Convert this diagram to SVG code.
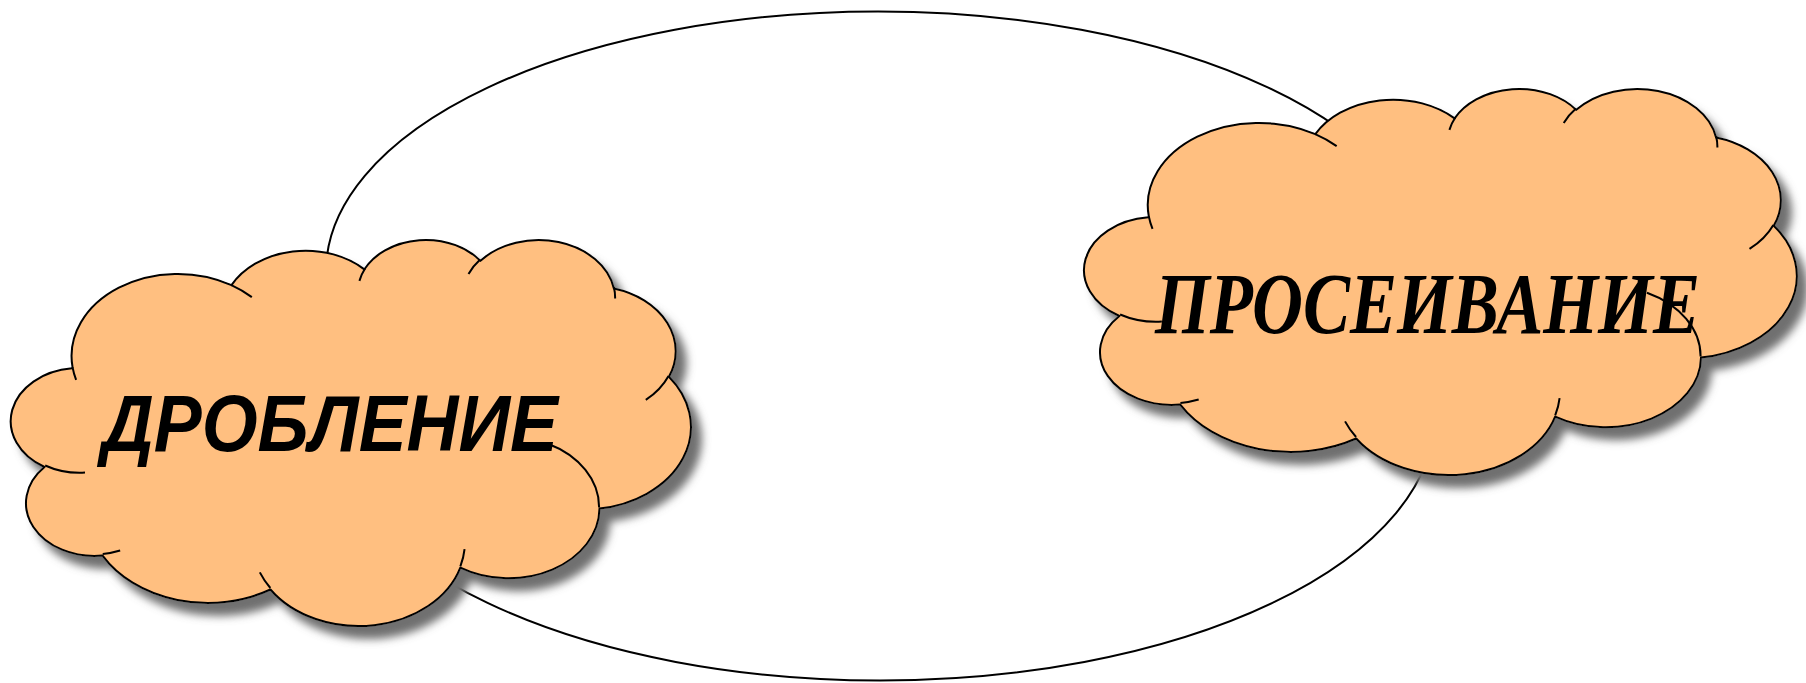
<svg xmlns="http://www.w3.org/2000/svg" xmlns:xlink="http://www.w3.org/1999/xlink" width="1806" height="683" viewBox="0 0 1806 683">
<defs>
<style>
.cloud{fill:#FFBF80;stroke:#000;stroke-width:2;vector-effect:non-scaling-stroke;stroke-linejoin:round}
.clines{fill:none;stroke:#000;stroke-width:2;vector-effect:non-scaling-stroke}
.conn{fill:none;stroke:#000;stroke-width:2}
.t1{font-family:"Liberation Sans",Arial,sans-serif;font-style:italic;font-weight:bold;font-size:80px;fill:#000}
.t2{font-family:"Liberation Serif","Times New Roman",serif;font-style:italic;font-weight:bold;font-size:86px;fill:#000}
</style>
<filter id="shadow" x="-5%" y="-5%" width="115%" height="125%">
<feGaussianBlur in="SourceAlpha" stdDeviation="4"/>
<feOffset dx="10" dy="12" result="o"/>
<feFlood flood-color="#707070"/>
<feComposite in2="o" operator="in"/>
<feMerge><feMergeNode/><feMergeNode in="SourceGraphic"/></feMerge>
</filter>
<path id="cloudShape" class="cloud" d="M3900 14370 A6753 9190 0 0 1 14006 5203 A5333 7267 0 0 1 22458 3428 A4365 5945 0 0 1 29836 2479 A4857 6595 0 0 1 38322 5573 A5333 7273 0 0 1 41822 15457 A6775 9220 0 0 1 37407 30197 A5785 7867 0 0 1 28558 36807 A6752 9215 0 0 1 16484 39262 A7720 10543 0 0 1 5809 35468 A4360 5918 0 0 1 2117 25547 A4345 5945 0 0 1 3867 14504 Z"/>
<path id="cloudLines" class="clines" d="M4693 26177 A4345 5945 0 0 1 2160 25380 M6928 34899 A4360 5918 0 0 1 5820 35280 M16478 39090 A6752 9215 0 0 1 15809 37347 M28827 34751 A6752 9215 0 0 1 28560 36660 M34129 22954 A5785 7867 0 0 1 37380 30090 M41798 15354 A5333 7273 0 0 1 40350 18030 M38324 5426 A4857 6595 0 0 1 38400 6690 M29078 3952 A4857 6595 0 0 1 29820 2340 M22141 4720 A4365 5945 0 0 1 22500 3330 M14000 5192 A6753 9190 0 0 1 15300 6541 M4127 15789 A6753 9190 0 0 1 3900 14371"/>
</defs>
<rect x="0" y="0" width="1806" height="683" fill="#fff"/>
<g id="connectors">
<path class="conn" d="M326 271.5 A552 260 0 0 1 1430 271.5"/>
<path class="conn" d="M1435 415.5 A555 265 0 0 1 325 415.5"/>
</g>
<g id="node-drobl">
<g filter="url(#shadow)"><use xlink:href="#cloudShape" transform="translate(11.2 238.7) scale(0.015727 0.0089352)"/></g>
<use xlink:href="#cloudLines" transform="translate(11.2 238.7) scale(0.015727 0.0089352)"/>
<text class="t1" x="102" y="451" textLength="456" lengthAdjust="spacingAndGlyphs">ДРОБЛЕНИЕ</text>
</g>
<g id="node-prosev">
<g filter="url(#shadow)"><use xlink:href="#cloudShape" transform="translate(1084.5 87.7) scale(0.016481 0.0089352)"/></g>
<use xlink:href="#cloudLines" transform="translate(1084.5 87.7) scale(0.016481 0.0089352)"/>
<text class="t2" x="1155" y="333" textLength="545" lengthAdjust="spacingAndGlyphs">ПРОСЕИВАНИЕ</text>
</g>
</svg>
